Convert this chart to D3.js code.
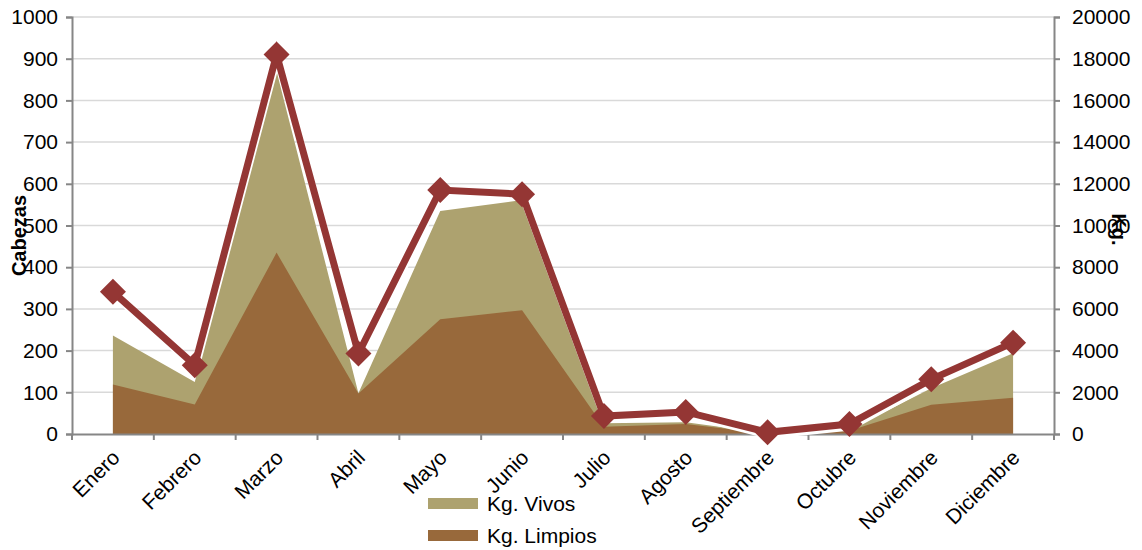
<!DOCTYPE html>
<html><head><meta charset="utf-8">
<script src="https://cdn.jsdelivr.net/npm/d3@7"></script>
<style>body{margin:0;background:#fff;} text{font-family:"Liberation Sans",Arial,sans-serif;}</style>
</head><body><svg id="c" width="1142" height="550"></svg>
<script>
const months = ["Enero","Febrero","Marzo","Abril","Mayo","Junio","Julio","Agosto","Septiembre","Octubre","Noviembre","Diciembre"];
const kgVivos   = [4720, 2500, 17400, 1960, 10700, 11220, 520, 560, 40, 200, 2200, 3870];
const kgLimpios = [2380, 1420, 8700, 1940, 5500, 5940, 350, 480, 20, 150, 1400, 1740];
const cabezas   = [341, 165, 910, 193, 585, 575, 43, 53, 4, 24, 131, 219];
const leftTicks = [0,100,200,300,400,500,600,700,800,900,1000];
const rightTicks = [0,2000,4000,6000,8000,10000,12000,14000,16000,18000,20000];
const legendItems = [{name:"Kg. Vivos", color:"#ADA26F"},{name:"Kg. Limpios", color:"#98693B"}];

const svg = d3.select("#c");
const L = 72, R = 1054, T = 17, B = 434;
const x = d3.scaleBand().domain(months).range([L, R]).paddingInner(0).paddingOuter(0);
const cx = m => x(m) + x.bandwidth()/2;
const yL = d3.scaleLinear().domain([0,1000]).range([B, T]);
const yR = d3.scaleLinear().domain([0,20000]).range([B, T]);
const axisColor = "#868686", gridColor = "#D9D9D9";

// gridlines
svg.append("g").selectAll("line").data(leftTicks.slice(1)).join("line")
  .attr("x1", L).attr("x2", R).attr("y1", d=>yL(d)).attr("y2", d=>yL(d))
  .attr("stroke", gridColor).attr("stroke-width", 1.5);

// areas
const area = vals => d3.area().x((d,i)=>cx(months[i])).y0(B).y1(d=>yR(d))(vals);
svg.append("path").attr("d", area(kgVivos)).attr("fill", legendItems[0].color);
svg.append("path").attr("d", area(kgLimpios)).attr("fill", legendItems[1].color);

// axes
const fs = "21px";
const gl = svg.append("g").attr("transform", `translate(${L},0)`)
  .call(d3.axisLeft(yL).tickValues(leftTicks).tickSize(6).tickPadding(8).tickFormat(d3.format("d")));
const gr = svg.append("g").attr("transform", `translate(${R},0)`)
  .call(d3.axisRight(yR).tickValues(rightTicks).tickSize(6).tickPadding(12).tickFormat(d3.format("d")));
const gb = svg.append("g").attr("transform", `translate(0,${B})`)
  .call(d3.axisBottom(x).tickSize(0).tickFormat(""));
[gl,gr,gb].forEach(g=>{
  g.select(".domain").attr("stroke", axisColor).attr("stroke-width", 2);
  g.selectAll(".tick line").attr("stroke", axisColor).attr("stroke-width", 2);
  g.selectAll("text").attr("fill", "#000").style("font-size", fs).style("font-family", "Liberation Sans, Arial, sans-serif");
});
// category boundary ticks
gb.selectAll("line.bt").data(d3.range(months.length+1)).join("line").attr("class","bt")
  .attr("x1", i=>L + i*x.bandwidth()).attr("x2", i=>L + i*x.bandwidth())
  .attr("y1", 0).attr("y2", 6).attr("stroke", axisColor).attr("stroke-width", 2);
// x labels
svg.append("g").selectAll("text").data(months).join("text")
  .attr("transform", d=>`translate(${cx(d)+8},${B+25}) rotate(-45)`)
  .attr("text-anchor", "end").style("font-size", fs).text(d=>d);

// line with shadow
const line = d3.line().x((d,i)=>cx(months[i])).y(d=>yL(d));
svg.append("path").attr("d", line(cabezas)).attr("fill","none").attr("stroke","#fff")
  .attr("stroke-width", 7).attr("transform","translate(1,3)");
svg.append("path").attr("d", line(cabezas)).attr("fill","none").attr("stroke","#943634")
  .attr("stroke-width", 7).attr("stroke-linejoin","miter");
const s = 13;
svg.append("g").selectAll("path").data(cabezas).join("path")
  .attr("d", (d,i)=>{const px=cx(months[i]), py=yL(d); return `M${px},${py-s}L${px+s},${py}L${px},${py+s}L${px-s},${py}Z`;})
  .attr("fill", "#943634");

// axis titles
svg.append("text").attr("transform", `translate(26,${(T+B)/2+10}) rotate(-90)`)
  .attr("text-anchor","middle").style("font-size","20px").style("font-weight","bold").text("Cabezas");
svg.append("text").attr("transform", `translate(1112,${(T+B)/2+4}) rotate(90)`)
  .attr("text-anchor","middle").style("font-size","20px").style("font-weight","bold").text("Kg.");

// legend
const lg = svg.append("g").selectAll("g").data(legendItems).join("g")
  .attr("transform", (d,i)=>`translate(428,${498 + i*32})`);
lg.append("rect").attr("width", 50).attr("height", 11).attr("fill", d=>d.color);
lg.append("text").attr("x", 59).attr("y", 13).style("font-size", fs).text(d=>d.name);
</script></body></html>
